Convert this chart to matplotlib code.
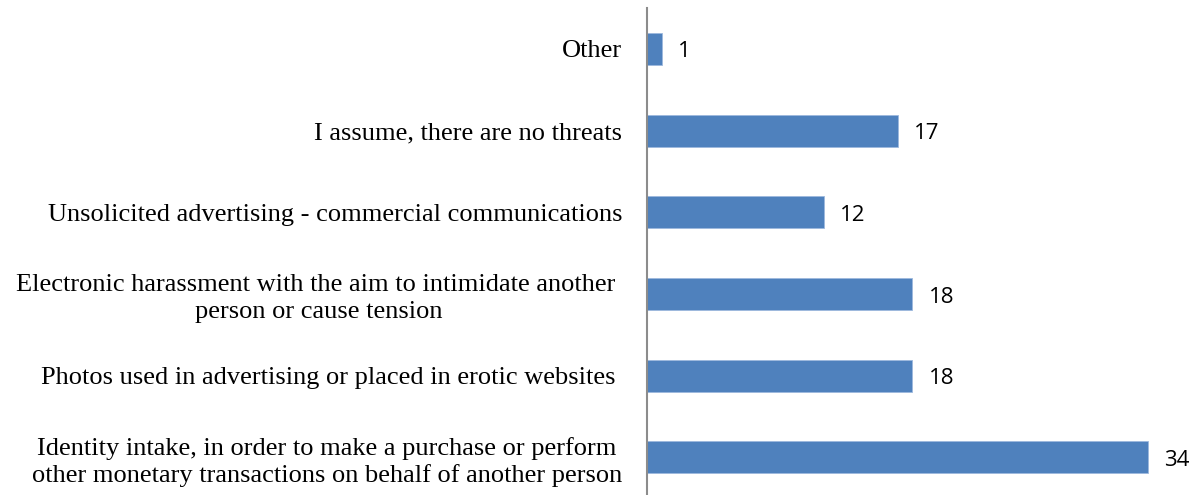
import matplotlib
matplotlib.use("Agg")
import matplotlib.pyplot as plt
from matplotlib.transforms import offset_copy

categories = [
    "Identity intake, in order to make a purchase or perform\nother monetary transactions on behalf of another person",
    "Photos used in advertising or placed in erotic websites ",
    "Electronic harassment with the aim to intimidate another \nperson or cause tension",
    "Unsolicited advertising - commercial communications",
    "I assume, there are no threats",
    "Other",
]
values = [34, 18, 18, 12, 17, 1]

fig = plt.figure(figsize=(12, 4.95), dpi=100)
ax = fig.add_axes([647/1200, 0, 545.4/1200, 487/495])

pos = list(range(len(categories)))
bars = ax.barh(pos, values, height=0.39, color="#4F81BD", edgecolor="#9DB9DD", linewidth=0.6)
ax.set_xlim(0, 37)
ax.set_ylim(-0.46, 5.50)

ax.set_yticks(pos)
ax.set_yticklabels(categories, family="Liberation Serif", fontsize=19,
                   multialignment="center", linespacing=1.25)
ax.tick_params(axis="y", length=0, pad=18)
ax.set_xticks([])

for s in ["top", "right", "bottom"]:
    ax.spines[s].set_visible(False)
ax.spines["left"].set_color("#8C8C8C")
ax.spines["left"].set_linewidth(1.5)

trans = offset_copy(ax.transData, fig=fig, x=0, y=-2.2, units="points")
for b, v in zip(bars, values):
    ax.text(b.get_width() + 1.1, b.get_y() + b.get_height()/2, str(v),
            va="center", ha="left", family="Open Sans", fontsize=16,
            color="#000000", transform=trans)

fig.savefig("out.png", dpi=100)
